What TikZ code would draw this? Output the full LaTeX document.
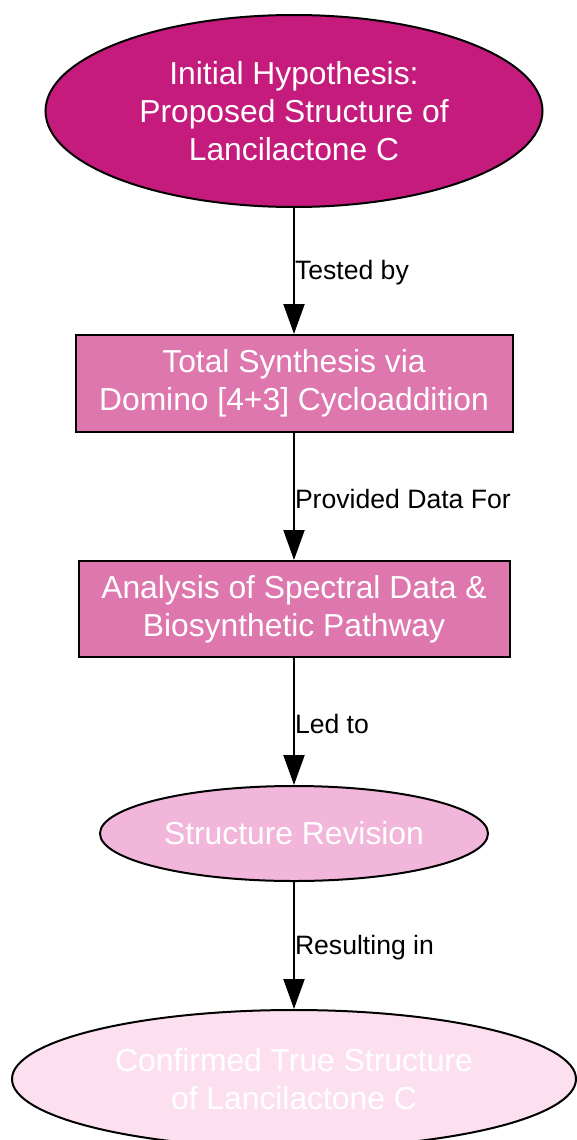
\documentclass[tikz,border=0pt]{standalone}
\usepackage{fontspec}
\setmainfont{Liberation Sans}
\usetikzlibrary{shapes.geometric,arrows.meta}
\definecolor{hypofill}{HTML}{C51B7D}
\definecolor{stepfill}{HTML}{DE77AE}
\definecolor{revisefill}{HTML}{F1B6DA}
\definecolor{truefill}{HTML}{FDE0EF}
\tikzset{
  stage/.style={draw=black, line width=2pt, text=white, align=center,
    inner sep=0pt, font=\fontsize{31.8}{38}\selectfont},
  oval/.style={stage, ellipse},
  box/.style={stage, rectangle},
  link/.style={line width=2pt, -{Triangle[length=30pt,width=21pt]}},
  tag/.style={anchor=west, inner sep=0pt, yshift=-2pt, font=\fontsize{26.6}{30}\selectfont}
}
\begin{document}
\begin{tikzpicture}[x=1pt,y=-1pt]
      \useasboundingbox (0,0) rectangle (577,1140);
      \draw
        (294,111) node[oval, fill=hypofill, minimum width=497pt, minimum height=192pt]
          (hypothesis){Initial Hypothesis:\\Proposed Structure of\\Lancilactone C}
        (294,383.5) node[box, fill=stepfill, minimum width=437pt, minimum height=97pt]
          (synthesis){Total Synthesis via\\Domino [4+3] Cycloaddition}
        (294,609) node[box, fill=stepfill, minimum width=431pt, minimum height=96pt]
          (analysis){Analysis of Spectral Data \&\\Biosynthetic Pathway}
        (294,833.5) node[oval, fill=revisefill, minimum width=388pt, minimum height=95pt]
          (revision){Structure Revision}
        (294,1079) node[oval, fill=truefill, minimum width=564pt, minimum height=138pt]
          (truestructure){Confirmed True Structure\\of Lancilactone C};
      \begin{scope}[link]
        \draw (hypothesis) to node[tag, midway]{Tested by} (synthesis);
        \draw (synthesis) to node[tag, midway]{Provided Data For} (analysis);
        \draw (analysis) to node[tag, midway]{Led to} (revision);
        \draw (revision) to node[tag, midway]{Resulting in} (truestructure);
      \end{scope}
    \end{tikzpicture}
\end{document}
